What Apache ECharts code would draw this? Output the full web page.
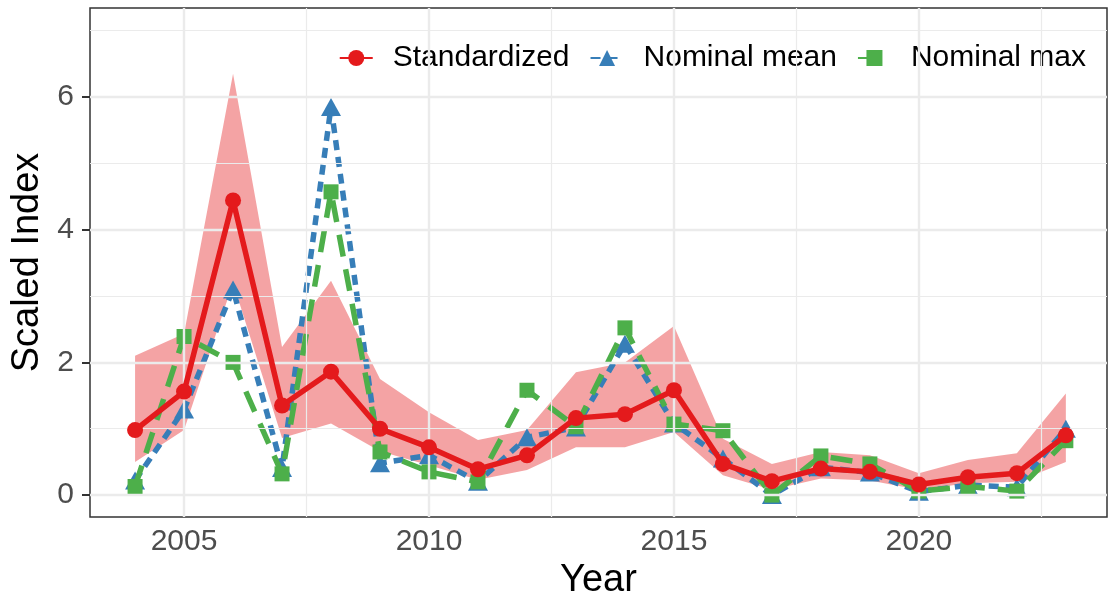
<!DOCTYPE html>
<html>
<head>
<meta charset="utf-8">
<script src="https://cdn.jsdelivr.net/npm/echarts@6/dist/echarts.min.js"></script>
<style>
  html, body { margin: 0; padding: 0; background: #ffffff; }
  #chart { width: 1108px; height: 603px; }
</style>
</head>
<body>
<div id="chart"></div>
<script>
// Survey years
const years = [2004, 2005, 2006, 2007, 2008, 2009, 2010, 2011, 2012, 2013,
               2014, 2015, 2016, 2017, 2018, 2019, 2020, 2021, 2022, 2023];

// Standardized index with its uncertainty band
const standardized = [0.98, 1.56, 4.44, 1.35, 1.86, 1.00, 0.72, 0.39, 0.60, 1.16,
                      1.22, 1.58, 0.47, 0.21, 0.40, 0.35, 0.16, 0.27, 0.33, 0.90];
const bandUpper = [2.10, 2.43, 6.35, 2.23, 3.23, 1.75, 1.25, 0.83, 0.98, 1.85,
                   2.00, 2.55, 0.85, 0.47, 0.65, 0.60, 0.33, 0.53, 0.63, 1.53];
const bandLower = [0.50, 0.98, 3.20, 0.86, 1.08, 0.66, 0.45, 0.23, 0.38, 0.72,
                   0.72, 0.95, 0.30, 0.08, 0.25, 0.22, 0.08, 0.18, 0.20, 0.50];

// Nominal indices
const nominalMean = [0.22, 1.29, 3.10, 0.41, 5.85, 0.48, 0.60, 0.20, 0.87, 1.02,
                     2.28, 1.08, 0.55, 0.00, 0.42, 0.34, 0.05, 0.15, 0.12, 1.00];
const nominalMax = [0.13, 2.39, 2.00, 0.32, 4.57, 0.65, 0.35, 0.20, 1.58, 1.03,
                    2.52, 1.07, 0.97, 0.00, 0.59, 0.47, 0.06, 0.13, 0.06, 0.82];

// Axis ticks and grid positions
const xTicks = [2005, 2010, 2015, 2020];
const xMinorGrid = [2007.5, 2012.5, 2017.5, 2022.5];
const yTicks = [0, 2, 4, 6];
const yMinorGrid = [1, 3, 5, 7];
const xRange = [2003.08, 2023.84];
const yRange = [-0.33, 7.34];

const FONT = 'Liberation Sans';
const RED = '#E41A1C', BLUE = '#377EB8', GREEN = '#4DAF4A';
const GRID_COLOR = '#ebebeb';

const gridLines = []
  .concat(xTicks.map(v => ({ xAxis: v, lineStyle: { width: 2.4 } })))
  .concat(xMinorGrid.map(v => ({ xAxis: v, lineStyle: { width: 1.2 } })))
  .concat(yTicks.map(v => ({ yAxis: v, lineStyle: { width: 2.4 } })))
  .concat(yMinorGrid.map(v => ({ yAxis: v, lineStyle: { width: 1.2 } })));

const chart = echarts.init(document.getElementById('chart'), null, { renderer: 'canvas' });

chart.setOption({
  animation: false,
  backgroundColor: '#ffffff',
  textStyle: { fontFamily: FONT },
  grid: {
    left: 90, right: 1, top: 8, bottom: 86,
    outerBoundsMode: 'none',
    containLabel: false,
    show: true, borderColor: '#333333', borderWidth: 1.5,
    backgroundColor: 'transparent'
  },
  legend: {
    data: ['Standardized', 'Nominal mean', 'Nominal max'],
    right: 8, top: 29,
    backgroundColor: '#ffffff',
    padding: [14, 14, 14, 36],
    itemWidth: 33, itemHeight: 20, itemGap: 20,
    textStyle: { fontFamily: FONT, fontSize: 30, color: '#000000', padding: [0, 0, 0, 15] }
  },
  xAxis: {
    type: 'value',
    min: xRange[0], max: xRange[1],
    name: 'Year', nameLocation: 'middle', nameGap: 45,
    nameTextStyle: { fontFamily: FONT, fontSize: 38, color: '#000000' },
    axisLine: { show: false },
    axisTick: { show: true, customValues: xTicks, length: 8, lineStyle: { color: '#333333', width: 2 } },
    axisLabel: { customValues: xTicks, margin: 10, fontFamily: FONT, fontSize: 30, color: '#4d4d4d',
                 formatter: v => String(v) },
    splitLine: { show: false }
  },
  yAxis: {
    type: 'value',
    min: yRange[0], max: yRange[1],
    name: 'Scaled Index', nameLocation: 'middle', nameGap: 39, nameRotate: 90,
    nameTextStyle: { fontFamily: FONT, fontSize: 38, color: '#000000' },
    axisLine: { show: false },
    axisTick: { show: true, customValues: yTicks, length: 8, lineStyle: { color: '#333333', width: 2 } },
    axisLabel: { customValues: yTicks, margin: 16, fontFamily: FONT, fontSize: 30, color: '#4d4d4d' },
    splitLine: { show: false }
  },
  series: [
    {
      // panel grid lines
      name: 'grid',
      type: 'line',
      data: [],
      z: 0,
      silent: true,
      markLine: {
        silent: true,
        animation: false,
        symbol: ['none', 'none'],
        label: { show: false },
        lineStyle: { color: GRID_COLOR, type: 'solid' },
        emphasis: { disabled: true },
        data: gridLines
      }
    },
    {
      // uncertainty ribbon around the standardized index
      name: 'band',
      type: 'custom',
      z: 1,
      silent: true,
      data: [[years[0], bandLower[0]]],
      renderItem: function (params, api) {
        if (params.dataIndex !== 0) return null;
        const upper = years.map((y, i) => api.coord([y, bandUpper[i]]));
        const lower = years.map((y, i) => api.coord([y, bandLower[i]])).reverse();
        return {
          type: 'polygon',
          shape: { points: upper.concat(lower) },
          style: { fill: 'rgba(228,26,28,0.4)', stroke: null }
        };
      }
    },
    {
      name: 'Nominal mean',
      type: 'line',
      z: 3,
      data: years.map((y, i) => [y, nominalMean[i]]),
      symbol: 'triangle',
      symbolSize: [20, 18],
      itemStyle: { color: BLUE },
      lineStyle: { color: BLUE, width: 5.5, type: [10, 7] }
    },
    {
      name: 'Nominal max',
      type: 'line',
      z: 4,
      data: years.map((y, i) => [y, nominalMax[i]]),
      symbol: 'rect',
      symbolSize: 15,
      itemStyle: { color: GREEN },
      lineStyle: { color: GREEN, width: 5.5, type: [22, 13] }
    },
    {
      name: 'Standardized',
      type: 'line',
      z: 5,
      data: years.map((y, i) => [y, standardized[i]]),
      symbol: 'circle',
      symbolSize: 16,
      itemStyle: { color: RED },
      lineStyle: { color: RED, width: 5.5, type: 'solid' }
    }
  ]
});
</script>
</body>
</html>
